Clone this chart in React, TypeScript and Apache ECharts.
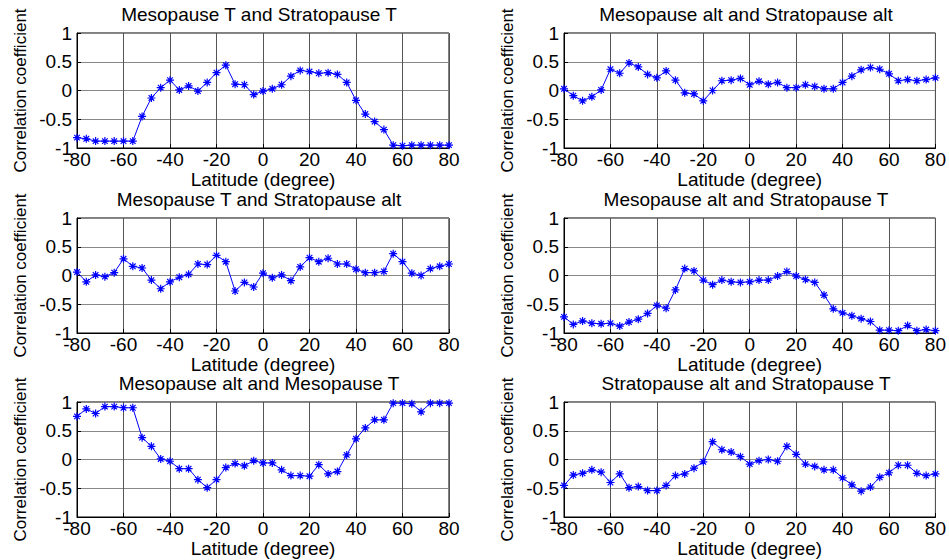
import React, { useEffect, useRef } from "react";
import * as echarts from "echarts";

const latitudes = [
  -80, -76, -72, -68, -64, -60, -56, -52, -48, -44, -40, -36, -32, -28, -24, -20, -16, -12, -8, -4,
  0, 4, 8, 12, 16, 20, 24, 28, 32, 36, 40, 44, 48, 52, 56, 60, 64, 68, 72, 76, 80,
];

const mesoTStratoT = [
  -0.82, -0.84, -0.88, -0.88, -0.88, -0.88, -0.88, -0.45, -0.13, 0.05, 0.18, 0.01, 0.08, -0.01, 0.14, 0.31,
  0.44, 0.11, 0.1, -0.07, -0.01, 0.03, 0.1, 0.25, 0.35, 0.33, 0.3, 0.31, 0.28, 0.14, -0.17, -0.41, -0.54,
  -0.68, -0.95, -0.96, -0.95, -0.95, -0.95, -0.95, -0.95,
];

const mesoAltStratoAlt = [
  0.03, -0.09, -0.18, -0.11, 0.01, 0.37, 0.3, 0.48, 0.41, 0.28, 0.22, 0.34, 0.18, -0.04, -0.06, -0.18,
  0.0, 0.17, 0.18, 0.21, 0.1, 0.16, 0.11, 0.14, 0.05, 0.05, 0.1, 0.07, 0.03, 0.03, 0.14, 0.25, 0.36, 0.4,
  0.37, 0.29, 0.17, 0.19, 0.17, 0.19, 0.22,
];

const mesoTStratoAlt = [
  0.06, -0.11, 0.01, -0.02, 0.05, 0.29, 0.16, 0.13, -0.08, -0.23, -0.11, -0.03, 0.02, 0.2, 0.19, 0.35,
  0.24, -0.27, -0.12, -0.2, 0.04, -0.04, 0.01, -0.09, 0.15, 0.31, 0.24, 0.3, 0.2, 0.2, 0.11, 0.05, 0.05,
  0.07, 0.38, 0.24, 0.04, 0.0, 0.12, 0.16, 0.2,
];

const mesoAltStratoT = [
  -0.72, -0.85, -0.79, -0.83, -0.84, -0.83, -0.88, -0.81, -0.76, -0.66, -0.52, -0.57, -0.25, 0.12, 0.08,
  -0.08, -0.16, -0.08, -0.11, -0.12, -0.11, -0.08, -0.08, -0.01, 0.07, -0.01, -0.07, -0.12, -0.34, -0.58,
  -0.65, -0.7, -0.75, -0.8, -0.95, -0.95, -0.96, -0.87, -0.96, -0.94, -0.96,
];

const mesoAltMesoT = [
  0.75, 0.88, 0.8, 0.92, 0.92, 0.9, 0.9, 0.38, 0.23, 0.01, -0.03, -0.16, -0.16, -0.35, -0.49, -0.35,
  -0.14, -0.07, -0.11, -0.02, -0.06, -0.06, -0.18, -0.28, -0.28, -0.29, -0.09, -0.25, -0.21, 0.08, 0.36,
  0.55, 0.69, 0.69, 0.98, 0.98, 0.97, 0.83, 0.98, 0.98, 0.98,
];

const stratoAltStratoT = [
  -0.45, -0.27, -0.24, -0.18, -0.22, -0.4, -0.25, -0.49, -0.47, -0.54, -0.54, -0.45, -0.28, -0.25, -0.15,
  -0.04, 0.31, 0.17, 0.13, 0.05, -0.08, -0.02, 0.0, -0.03, 0.23, 0.09, -0.08, -0.12, -0.18, -0.18, -0.32,
  -0.44, -0.55, -0.48, -0.31, -0.23, -0.1, -0.1, -0.24, -0.28, -0.25,
];

const panelTitles = [
  "Mesopause T and Stratopause T",
  "Mesopause alt and Stratopause alt",
  "Mesopause T and Stratopause alt",
  "Mesopause alt and Stratopause T",
  "Mesopause alt and Mesopause T",
  "Stratopause alt and Stratopause T",
];

const panelSeries = [
  mesoTStratoT,
  mesoAltStratoAlt,
  mesoTStratoAlt,
  mesoAltStratoT,
  mesoAltMesoT,
  stratoAltStratoT,
];

const xLabel = "Latitude (degree)";
const yLabel = "Correlation coefficient";

// asterisk marker drawn as strokes
const STAR = "path://M5,0L5,10M0,5L10,5M1.5,1.5L8.5,8.5M1.5,8.5L8.5,1.5";

const FONT = "'Liberation Sans', Arial, sans-serif";

const colLeft = [77, 564];
const plotWidth = 372;
const rowTop = [33, 218, 402];
const plotHeight = 115;

export default function App() {
  const ref = useRef<HTMLDivElement>(null);

  useEffect(() => {
    if (!ref.current) return;
    const chart = echarts.init(ref.current, null, { renderer: "svg" });

    const grids: any[] = [];
    const xAxes: any[] = [];
    const yAxes: any[] = [];
    const series: any[] = [];
    const graphics: any[] = [];

    panelSeries.forEach((vals, i) => {
      const col = i % 2;
      const row = Math.floor(i / 2);
      const left = colLeft[col];
      const top = rowTop[row];
      grids.push({
        left,
        top,
        width: plotWidth,
        height: plotHeight,
        show: true,
        borderColor: "#000",
        borderWidth: 1,
        backgroundColor: "#fff",
      });
      xAxes.push({
        type: "value",
        gridIndex: i,
        min: -80,
        max: 80,
        interval: 20,
        name: xLabel,
        nameLocation: "middle",
        nameGap: 19,
        nameTextStyle: { fontFamily: FONT, fontSize: 19, color: "#000" },
        axisLine: { show: true, onZero: false, lineStyle: { color: "#000", width: 1 } },
        axisTick: { show: true, inside: true, length: 4, lineStyle: { color: "#000" } },
        axisLabel: { fontFamily: FONT, fontSize: 19, color: "#000", margin: 2 },
        splitLine: { show: true, lineStyle: { color: "#555", width: 1 } },
      });
      yAxes.push({
        type: "value",
        gridIndex: i,
        min: -1,
        max: 1,
        interval: 0.5,
        name: yLabel,
        nameLocation: "middle",
        nameGap: 48,
        nameTextStyle: { fontFamily: FONT, fontSize: 17, color: "#000" },
        axisLine: { show: true, onZero: false, lineStyle: { color: "#000", width: 1 } },
        axisTick: { show: true, inside: true, length: 4, lineStyle: { color: "#000" } },
        axisLabel: { fontFamily: FONT, fontSize: 19, color: "#000", margin: 5 },
        splitLine: { show: true, lineStyle: { color: "#888", width: 1 } },
      });
      series.push({
        type: "line",
        xAxisIndex: i,
        yAxisIndex: i,
        data: latitudes.map((lat, k) => [lat, vals[k]]),
        symbol: STAR,
        symbolSize: 8,
        showSymbol: true,
        lineStyle: { color: "#0000ff", width: 1 },
        itemStyle: { color: "none", borderColor: "#0000ff", borderWidth: 1.2 },
        emphasis: { disabled: true },
      });
      graphics.push({
        type: "text",
        x: left + plotWidth / 2 - 4,
        y: top - 19,
        style: {
          text: panelTitles[i],
          fontFamily: FONT,
          fontSize: 19,
          fill: "#000",
          textAlign: "center",
          textVerticalAlign: "middle",
        },
      });
    });

    chart.setOption({
      animation: false,
      backgroundColor: "#fff",
      grid: grids,
      xAxis: xAxes,
      yAxis: yAxes,
      series,
      graphic: graphics,
    });

    return () => chart.dispose();
  }, []);

  return (
    <div
      ref={ref}
      style={{ width: 949, height: 560, position: "absolute", left: 0, top: 0 }}
    />
  );
}
